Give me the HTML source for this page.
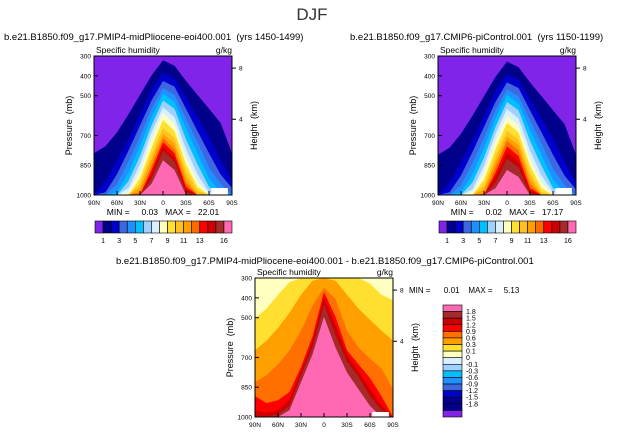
<!DOCTYPE html>
<html><head><meta charset="utf-8"><style>
html,body{margin:0;padding:0;background:#fff;}
svg{display:block;font-family:"Liberation Sans",sans-serif;}
text{white-space:pre;}
</style></head><body>
<svg id="c" width="624" height="435" viewBox="0 0 624 435">
<text x="312" y="20" text-anchor="middle" font-size="17" fill="#333">DJF</text>
<text x="4" y="40" font-size="9.5" fill="#000">b.e21.B1850.f09_g17.PMIP4-midPliocene-eoi400.001  (yrs 1450-1499)</text>
<text x="350" y="40" font-size="9.5" fill="#000">b.e21.B1850.f09_g17.CMIP6-piControl.001  (yrs 1150-1199)</text>
<text x="116" y="264" font-size="9.5" fill="#000">b.e21.B1850.f09_g17.PMIP4-midPliocene-eoi400.001 - b.e21.B1850.f09_g17.CMIP6-piControl.001</text>
<g id="g"></g>
</svg>
<script>
// latitudes 90N..90S, step 15
const lats=["90N","75N","60N","45N","30N","15N","0","15S","30S","45S","60S","75S","90S"];
const latTicks=["90N","60N","30N","0","30S","60S","90S"];
const presTicks=[300,400,500,700,850,1000];
const kmTicks=[8,4];
const absLevels=["1","3","5","7","9","11","13","16"];
const absColors=["#7f24e8","#00008b","#0000cd","#3d68e0","#1e90ff","#00bfff","#a0d0ff","#d8f0ff","#ffffc0","#ffe030","#ffc020","#ffa000","#ff6a00","#ff0000","#cc0000","#a52a2a","#ff69b4"];
// contour tops (fraction of column from 1000mb to 300mb) for each level above background
const absA=[
[0.30,0.35,0.45,0.58,0.72,0.86,0.97,0.93,0.82,0.72,0.62,0.52,0.30],
[0.00,0.10,0.25,0.40,0.58,0.76,0.88,0.84,0.70,0.56,0.42,0.25,0.10],
[0.00,0.02,0.15,0.32,0.50,0.68,0.82,0.78,0.62,0.46,0.30,0.15,0.05],
[0.00,0.00,0.08,0.24,0.42,0.62,0.77,0.72,0.55,0.38,0.20,0.08,0.00],
[0.00,0.00,0.02,0.16,0.35,0.56,0.73,0.67,0.48,0.30,0.12,0.02,0.00],
[0.00,0.00,0.00,0.10,0.28,0.50,0.68,0.62,0.40,0.22,0.06,0.00,0.00],
[0.00,0.00,0.00,0.05,0.22,0.45,0.63,0.56,0.33,0.15,0.02,0.00,0.00],
[0.00,0.00,0.00,0.02,0.17,0.40,0.59,0.51,0.27,0.10,0.00,0.00,0.00],
[0.00,0.00,0.00,0.00,0.12,0.34,0.54,0.46,0.22,0.06,0.00,0.00,0.00],
[0.00,0.00,0.00,0.00,0.08,0.29,0.48,0.41,0.17,0.03,0.00,0.00,0.00],
[0.00,0.00,0.00,0.00,0.05,0.25,0.44,0.37,0.13,0.00,0.00,0.00,0.00],
[0.00,0.00,0.00,0.00,0.02,0.21,0.41,0.33,0.09,0.00,0.00,0.00,0.00],
[0.00,0.00,0.00,0.00,0.00,0.18,0.38,0.30,0.06,0.00,0.00,0.00,0.00],
[0.00,0.00,0.00,0.00,0.00,0.15,0.35,0.27,0.04,0.00,0.00,0.00,0.00],
[0.00,0.00,0.00,0.00,0.00,0.12,0.32,0.24,0.02,0.00,0.00,0.00,0.00],
[0.00,0.00,0.00,0.00,0.00,0.08,0.25,0.18,0.00,0.00,0.00,0.00,0.00]];
const absB=[
[0.29,0.34,0.44,0.57,0.71,0.85,0.96,0.92,0.81,0.71,0.61,0.51,0.29],
[0.00,0.09,0.24,0.39,0.57,0.75,0.87,0.83,0.69,0.55,0.41,0.24,0.09],
[0.00,0.02,0.14,0.31,0.49,0.67,0.81,0.77,0.61,0.45,0.29,0.14,0.04],
[0.00,0.00,0.07,0.23,0.41,0.61,0.76,0.71,0.54,0.37,0.19,0.07,0.00],
[0.00,0.00,0.02,0.15,0.34,0.55,0.72,0.66,0.47,0.29,0.11,0.02,0.00],
[0.00,0.00,0.00,0.09,0.27,0.49,0.67,0.61,0.39,0.21,0.05,0.00,0.00],
[0.00,0.00,0.00,0.04,0.21,0.44,0.62,0.55,0.32,0.14,0.02,0.00,0.00],
[0.00,0.00,0.00,0.02,0.16,0.39,0.57,0.50,0.26,0.09,0.00,0.00,0.00],
[0.00,0.00,0.00,0.00,0.11,0.33,0.52,0.45,0.21,0.05,0.00,0.00,0.00],
[0.00,0.00,0.00,0.00,0.07,0.28,0.46,0.40,0.16,0.02,0.00,0.00,0.00],
[0.00,0.00,0.00,0.00,0.04,0.24,0.42,0.36,0.12,0.00,0.00,0.00,0.00],
[0.00,0.00,0.00,0.00,0.01,0.20,0.39,0.32,0.08,0.00,0.00,0.00,0.00],
[0.00,0.00,0.00,0.00,0.00,0.16,0.35,0.28,0.05,0.00,0.00,0.00,0.00],
[0.00,0.00,0.00,0.00,0.00,0.13,0.31,0.24,0.03,0.00,0.00,0.00,0.00],
[0.00,0.00,0.00,0.00,0.00,0.09,0.26,0.20,0.01,0.00,0.00,0.00,0.00],
[0.00,0.00,0.00,0.00,0.00,0.05,0.18,0.13,0.00,0.00,0.00,0.00,0.00]];
const diffLevels=["1.8","1.5","1.2","0.9","0.6","0.3","0.1","0","-0.1","-0.3","-0.6","-0.9","-1.2","-1.5","-1.8"];
const diffLegendColors=["#ff69b4","#a52a2a","#cc0000","#ff0000","#ff7000","#ffa000","#ffe030","#ffffc0","#d8f0ff","#a0d0ff","#00bfff","#1e90ff","#3d68e0","#0000cd","#00008b","#00008b","#7f24e8"];
const diffColors=["#ffffc0","#ffe030","#ffa000","#ff7000","#ff0000","#cc0000","#a52a2a","#ff69b4"];
const diffD=[
[0.71,0.78,0.88,0.97,1.00,1.00,1.00,1.00,1.00,1.00,0.96,0.88,0.84],
[0.48,0.55,0.64,0.75,0.88,0.98,1.00,0.98,0.88,0.78,0.70,0.62,0.55],
[0.25,0.30,0.38,0.48,0.62,0.80,0.93,0.85,0.62,0.50,0.42,0.35,0.20],
[0.15,0.10,0.12,0.18,0.36,0.58,0.90,0.72,0.48,0.38,0.28,0.15,0.00],
[0.05,0.03,0.05,0.12,0.33,0.55,0.86,0.66,0.45,0.33,0.20,0.08,0.00],
[0.00,0.00,0.02,0.08,0.30,0.50,0.81,0.59,0.40,0.29,0.15,0.05,0.00],
[0.00,0.00,0.00,0.05,0.25,0.45,0.72,0.50,0.32,0.20,0.08,0.00,0.00]];

const NS="http://www.w3.org/2000/svg";
const G=document.getElementById('g');
function mk(t,a,p){const e=document.createElementNS(NS,t);for(const k in a)e.setAttribute(k,a[k]);(p||G).appendChild(e);return e;}
function txt(x,y,s,size,anchor,p){const e=mk('text',{x:x,y:y,'font-size':size,'text-anchor':anchor||'start',fill:'#000'},p);e.textContent=s;return e;}

function panel(x0,y0,w,h,bg,colors,levels,name,gap){
  const g=mk('g',{});
  
  
  const xs=i=>x0+w*i/(lats.length-1);
  const ys=f=>y0+h-h*f;
  const r=mk('rect',{x:x0,y:y0,width:w,height:h,fill:bg},g);
  
  
  levels.forEach((lv,k)=>{
    let d='M'+x0+','+(y0+h);
    lv.forEach((v,i)=>{d+=' L'+xs(i).toFixed(1)+','+ys(v).toFixed(1);});
    d+=' L'+(x0+w)+','+(y0+h)+' Z';
    const p=mk('path',{d:d,fill:colors[k],'stroke-linejoin':'round'},g);
    
    
  });
  if(gap){
    const m=mk('rect',{x:x0+w*gap[0],y:y0+h-gap[2],width:w*(gap[1]-gap[0]),height:gap[2],fill:'#fff'},g);
    
    
  }
  const fr=mk('rect',{x:x0,y:y0,width:w,height:h,fill:'none',stroke:'#000','stroke-width':1},g);
  
  
  latTicks.forEach((t,i)=>{
    const x=x0+w*i/(latTicks.length-1);
    mk('line',{x1:x,x2:x,y1:y0+h,y2:y0+h-4,stroke:'#000'},g);
    const l=txt(x,y0+h+10,t,6.5,'middle',g);
    
    
  });
  presTicks.forEach(p=>{
    const y=y0+h*(p-300)/700;
    mk('line',{x1:x0,x2:x0+4,y1:y,y2:y,stroke:'#000'},g);
    const l=txt(x0-3,y+2.5,String(p),6.5,'end',g);
    
    
  });
  kmTicks.forEach(k=>{
    const y=y0+h*(k===8?0.087:0.455);
    mk('line',{x1:x0+w,x2:x0+w+4,y1:y,y2:y,stroke:'#000'},g);
    const l=txt(x0+w+7,y+2.5,String(k),6.5,'start',g);
    
    
  });
  const a=txt(x0+2,y0-3,'Specific humidity',8.5,'start',g);
  
  
  const u=txt(x0+w,y0-3,'g/kg',8.5,'end',g);
  
  
  const yl=txt(0,0,'Pressure  (mb)',9,'middle',g);
  yl.setAttribute('transform','translate('+(x0-22)+','+(y0+h/2)+') rotate(-90)');
  
  
  const yr=txt(0,0,'Height  (km)',9,'middle',g);
  yr.setAttribute('transform','translate('+(x0+w+25)+','+(y0+h/2)+') rotate(-90)');
  
  
}
function hbar(x0,y0,w,h,name){
  const n=absColors.length,bw=w/n;
  absColors.forEach((c,i)=>{
    const r=mk('rect',{x:x0+i*bw,y:y0,width:bw,height:h,fill:c,stroke:'#000','stroke-width':0.6});
    
    
  });
  absLevels.forEach((s,i)=>{
    const l=txt(x0+bw*(1+2*i)+(i==7?bw:0),y0+h+10,s,7,'middle');
    
    
  });
}
panel(94,56,138,139,absColors[0],absColors.slice(1),absA,'panel-pliocene',[0.85,0.97,7]);
panel(438,56,138,139,absColors[0],absColors.slice(1),absB,'panel-picontrol',[0.85,0.97,7]);
panel(255,278,138,139,diffColors[0],diffColors.slice(1),diffD,'panel-difference',[0.85,0.97,5]);
hbar(95,221,137,12,'colorbar-pliocene');
hbar(439,221,137,12,'colorbar-picontrol');
let t;
t=txt(163,215,'MIN =     0.03   MAX =   22.01',8.5,'middle');


t=txt(507,215,'MIN =     0.02   MAX =   17.17',8.5,'middle');


t=txt(409,293,'MIN =      0.01    MAX =     5.13',8,'start');


(function(){
  const x0=443,y0=305,w=19,h=112,n=diffLegendColors.length,bh=h/n;
  diffLegendColors.forEach((c,i)=>{
    const r=mk('rect',{x:x0,y:y0+i*bh,width:w,height:bh,fill:c,stroke:'#000','stroke-width':0.6});
    
    
  });
  diffLevels.forEach((s,i)=>{
    const l=txt(x0+w+4,y0+(i+1)*bh+2.5,s,7,'start');
    
    
  });
})();
</script>
</body></html>
